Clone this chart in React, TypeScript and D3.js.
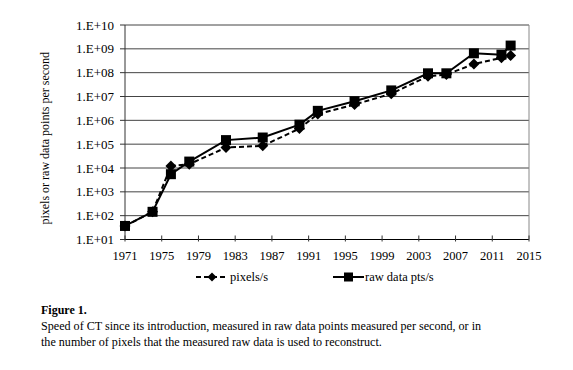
import React from "react";
import * as d3 from "d3";

// years of the measured scanners
const years = [1971, 1974, 1976, 1978, 1982, 1986, 1990, 1992, 1996, 2000, 2004, 2006, 2009, 2012, 2013];
// pixels per second
const pixels = [37, 145, 12000, 14500, 72000, 85000, 4.5e5, 1.85e6, 4.6e6, 1.3e7, 7.1e7, 8.3e7, 2.3e8, 4.2e8, 5.2e8];
// raw data points per second
const rawPts = [37, 145, 5500, 18600, 1.48e5, 1.9e5, 6.6e5, 2.5e6, 6.3e6, 1.8e7, 9.4e7, 9.4e7, 6.5e8, 5.7e8, 1.37e9];

const xTicks = [1971, 1975, 1979, 1983, 1987, 1991, 1995, 1999, 2003, 2007, 2011, 2015];
const yTicks = [1e1, 1e2, 1e3, 1e4, 1e5, 1e6, 1e7, 1e8, 1e9, 1e10];

const seriesNames = ["pixels/s", "raw data pts/s"];
const captionTitle = "Figure 1.";
const captionLines = [
  "Speed of CT since its introduction, measured in raw data points measured per second, or in",
  "the number of pixels that the measured raw data is used to reconstruct.",
];

const W = 573;
const H = 370;
const font = "'Liberation Serif', 'Times New Roman', serif";

const x = d3.scaleLinear().domain([1971, 2015]).range([125, 529]);
const y = d3.scaleLog().domain([1e1, 1e10]).range([239.5, 25]);

const fmtExp = (v: number) => {
  const e = Math.round(Math.log10(v));
  return `1.E+${e < 10 ? "0" + e : e}`;
};

const diamond = (cx: number, cy: number, r = 5.5) =>
  `M${cx},${cy - r}L${cx + r},${cy}L${cx},${cy + r}L${cx - r},${cy}Z`;

export default function App() {
  const line = d3
    .line<[number, number]>()
    .x((d) => x(d[0]))
    .y((d) => y(d[1]));

  const pixData = years.map((yr, i) => [yr, pixels[i]] as [number, number]);
  const rawData = years.map((yr, i) => [yr, rawPts[i]] as [number, number]);

  const [x0, x1] = x.range();
  const [yb, yt] = y.range();

  return (
    <svg
      width={W}
      height={H}
      style={{ position: "absolute", left: 0, top: 0, background: "#fff" }}
      fontFamily={font}
    >
      {/* grid */}
      {yTicks.map((t) => (
        <line key={t} x1={x0} x2={x1} y1={y(t)} y2={y(t)} stroke={t === 1e1 ? "#000" : "#444"} strokeWidth={1} />
      ))}
      <line x1={x1} x2={x1} y1={yt} y2={yb} stroke="#888" />
      <line x1={x0} x2={x0} y1={yt} y2={yb} stroke="#333" />

      {/* y ticks */}
      {yTicks.map((t) => (
        <g key={"yt" + t}>
          <line x1={x0 - 5} x2={x0} y1={y(t)} y2={y(t)} stroke="#333" />
          <text x={114} y={y(t)} dy="0.35em" textAnchor="end" fontSize={13}>
            {fmtExp(t)}
          </text>
        </g>
      ))}

      {/* x ticks */}
      {xTicks.map((t) => (
        <g key={"xt" + t}>
          <line x1={x(t)} x2={x(t)} y1={yb - 4} y2={yb + 2} stroke="#333" />
          <text x={x(t)} y={yb + 20} textAnchor="middle" fontSize={12.5}>
            {t}
          </text>
        </g>
      ))}

      <text
        transform={`translate(49,${(yt + yb) / 2 + 6}) rotate(-90)`}
        textAnchor="middle"
        fontSize={12}
      >
        pixels or raw data points per second
      </text>

      {/* series */}
      <path d={line(pixData) ?? ""} fill="none" stroke="#000" strokeWidth={2} strokeDasharray="5,3" />
      {pixData.map((d, i) => (
        <path key={"p" + i} d={diamond(x(d[0]), y(d[1]))} fill="#000" />
      ))}
      <path d={line(rawData) ?? ""} fill="none" stroke="#000" strokeWidth={2} />
      {rawData.map((d, i) => (
        <rect key={"r" + i} x={x(d[0]) - 5} y={y(d[1]) - 5} width={10} height={10} fill="#000" />
      ))}

      {/* legend */}
      <g transform="translate(0,277)">
        <line x1={196} x2={228} y1={0} y2={0} stroke="#000" strokeWidth={2} strokeDasharray="5,3" />
        <path d={diamond(212, 0, 4.5)} fill="#000" />
        <text x={230} y={0} dy="0.35em" fontSize={12.5}>
          {seriesNames[0]}
        </text>
        <line x1={333} x2={364} y1={0} y2={0} stroke="#000" strokeWidth={2} />
        <rect x={344} y={-4.5} width={9} height={9} fill="#000" />
        <text x={365} y={0} dy="0.35em" fontSize={12.5}>
          {seriesNames[1]}
        </text>
      </g>

      {/* caption */}
      <text x={41} y={314} fontSize={12} fontWeight="bold">
        {captionTitle}
      </text>
      {captionLines.map((l, i) => (
        <text key={i} x={41} y={330 + i * 15.5} fontSize={12.1}>
          {l}
        </text>
      ))}
    </svg>
  );
}
